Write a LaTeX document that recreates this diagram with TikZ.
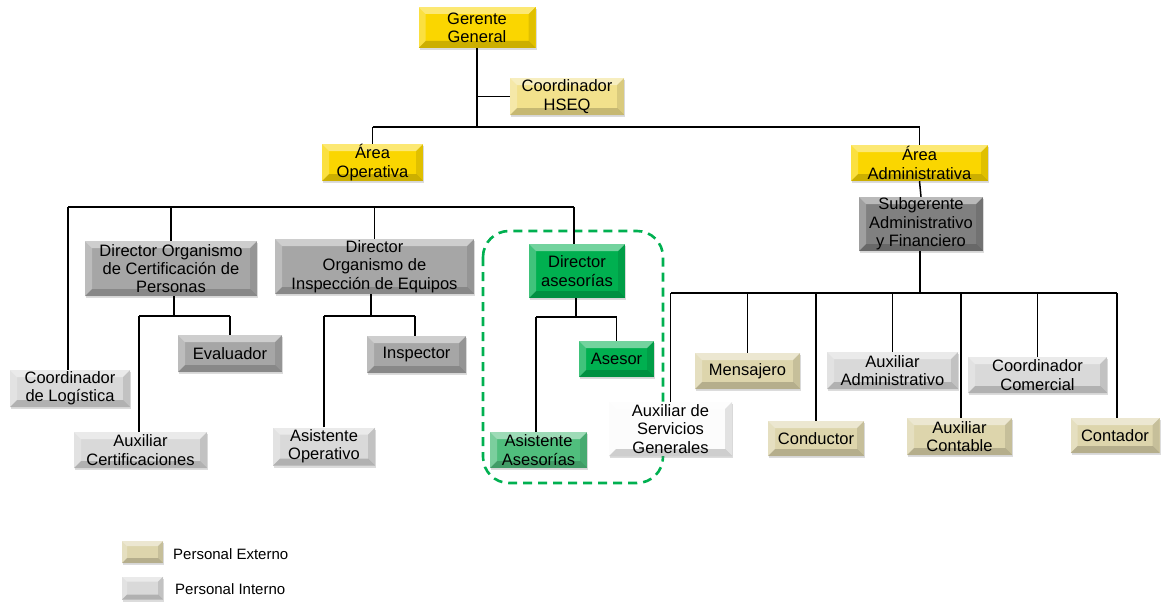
\documentclass[tikz,border=0pt]{standalone}
\usepackage{fontspec}
\setmainfont{Liberation Sans}
\usetikzlibrary{shadows}

% box fills
\definecolor{cYellow}{RGB}{250,214,0}
\definecolor{cYellowLt}{RGB}{242,225,140}
\definecolor{cGrayDir}{RGB}{166,166,166}
\definecolor{cGrayDk}{RGB}{128,128,128}
\definecolor{cGrayLt}{RGB}{217,217,217}
\definecolor{cKhaki}{RGB}{221,213,172}
\definecolor{cGreen}{RGB}{0,176,80}
\definecolor{cGreenLt}{RGB}{80,190,125}
\definecolor{cWhiteBox}{RGB}{252,252,252}

\tikzset{
  bevel/.style={path picture={
    \path (path picture bounding box.north west) coordinate (bnw)
          (path picture bounding box.north east) coordinate (bne)
          (path picture bounding box.south west) coordinate (bsw)
          (path picture bounding box.south east) coordinate (bse);
    \fill[white,opacity=.45] (bnw) -- (bne) -- ([shift={(-#1,-#1)}]bne) -- ([shift={(#1,-#1)}]bnw) -- cycle;
    \fill[white,opacity=.25] (bnw) -- ([shift={(#1,-#1)}]bnw) -- ([shift={(#1,#1)}]bsw) -- (bsw) -- cycle;
    \fill[black,opacity=.10] (bne) -- (bse) -- ([shift={(-#1,#1)}]bse) -- ([shift={(-#1,-#1)}]bne) -- cycle;
    \fill[black,opacity=.18] (bsw) -- (bse) -- ([shift={(-#1,#1)}]bse) -- ([shift={(#1,#1)}]bsw) -- cycle;
  }},
  orgbox/.style={draw=none, fill=#1, inner sep=0pt, align=center,
    font=\fontsize{16.5}{18.3}\selectfont, bevel=7pt,
    drop shadow={opacity=.28, shadow xshift=1.2pt, shadow yshift=-2.2pt}},
  sz/.style 2 args={minimum width=#1pt, minimum height=#2pt},
  link/.style={draw=black, line width=1.5pt},
  groupframe/.style={draw=cGreen, line width=2.6pt, dash pattern=on 9pt off 6pt, rounded corners=26pt},
  legendtext/.style={anchor=west, inner sep=0pt, font=\fontsize{15}{17}\selectfont}
}

\begin{document}
\begin{tikzpicture}[x=1pt,y=-1pt]
\useasboundingbox (0,0) rectangle (1166,602);

% advisory group frame, behind the boxes
\draw[groupframe] (483,231) rectangle (663,483);

% management
\node[orgbox=cYellow, sz={117}{41}] (gg) at (477,27.5) {Gerente\\General};
\node[orgbox=cYellowLt, sz={114}{37}] (hseq) at (567,96.5) {Coordinador\\HSEQ};
\node[orgbox=cYellow, sz={101}{37}] (aop) at (372.5,162.5) {Área\\Operativa};
\node[orgbox=cYellow, sz={137}{36}] (aad) at (919.5,163) {Área\\Administrativa};
\node[orgbox=cGrayDk, sz={124}{54}] (sub) at (921,224) {Subgerente\\Administrativo\\y Financiero};

% operational area
\node[orgbox=cGrayDir, sz={172}{55}] (dcp) at (171,268.5) {Director Organismo\\de Certificación de\\Personas};
\node[orgbox=cGrayDir, sz={199}{55}] (die) at (374.5,266.5) {Director\\Organismo de\\Inspección de Equipos};
\node[orgbox=cGreen, sz={96}{54}] (das) at (577,271) {Director\\asesorías};
\node[orgbox=cGrayDir, sz={104}{37}] (eval) at (230,353.5) {Evaluador};
\node[orgbox=cGrayDir, sz={99}{37}] (insp) at (416.5,354.5) {Inspector};
\node[orgbox=cGrayLt, sz={120}{37}] (clog) at (70,388.5) {Coordinador\\de Logística};
\node[orgbox=cGrayLt, sz={133}{36}] (auxc) at (140.5,450) {Auxiliar\\Certificaciones};
\node[orgbox=cGrayLt, sz={102}{38}] (asop) at (324,446.5) {Asistente\\Operativo};
\node[orgbox=cGreen, sz={75}{36}] (ases) at (616.5,359) {Asesor};
\node[orgbox=cGreenLt, sz={97}{36}] (asas) at (538.5,450) {Asistente\\Asesorías};

% administrative area
\node[orgbox=cWhiteBox, sz={123}{54}] (asg) at (670.5,429) {Auxiliar de\\Servicios\\Generales};
\node[orgbox=cKhaki, sz={105}{36}] (mens) at (747.5,371) {Mensajero};
\node[orgbox=cKhaki, sz={96}{35}] (cond) at (816,438.5) {Conductor};
\node[orgbox=cGrayLt, sz={131}{37}] (auxa) at (892.5,370.5) {Auxiliar\\Administrativo};
\node[orgbox=cKhaki, sz={105}{37}] (auxco) at (959.5,436.5) {Auxiliar\\Contable};
\node[orgbox=cGrayLt, sz={139}{36}] (cc) at (1037.5,375) {Coordinador\\Comercial};
\node[orgbox=cKhaki, sz={89}{35}] (cont) at (1115,435.5) {Contador};

% bus levels
\coordinate (b0) at (0,127);
\coordinate (b1) at (0,207);
\coordinate (b2) at (0,316);
\coordinate (b3) at (0,316);
\coordinate (b4) at (0,317);
\coordinate (b5) at (0,293);

% top level
\draw[link] (gg.south) -- (gg.south |- b0);
\draw[link] (hseq.west) -- (hseq.west -| gg.south);
\draw[link] (aop.north |- b0) -- (aad.north |- b0);
\draw[link] (aop.north) -- (aop.north |- b0);
\draw[link] (aad.north) -- (aad.north |- b0);
\draw[link] (aad.south) -- (sub.north);

% operational bus
\draw[link] ([xshift=-2pt]clog.north |- b1) -- ([xshift=-3pt]das.north |- b1);
\draw[link] ([xshift=-2pt]clog.north) -- ([xshift=-2pt]clog.north |- b1);
\draw[link] (dcp.north) -- (dcp.north |- b1);
\draw[link] (die.north) -- (die.north |- b1);
\draw[link] ([xshift=-3pt]das.north) -- ([xshift=-3pt]das.north |- b1);

% certification
\draw[link] ([xshift=3pt]dcp.south) -- ([xshift=3pt]dcp.south |- b2);
\draw[link] ([xshift=-1.5pt]auxc.north |- b2) -- (eval.north |- b2);
\draw[link] ([xshift=-1.5pt]auxc.north) -- ([xshift=-1.5pt]auxc.north |- b2);
\draw[link] (eval.north) -- (eval.north |- b2);

% inspection
\draw[link] ([xshift=-3.5pt]die.south) -- ([xshift=-3.5pt]die.south |- b3);
\draw[link] (asop.north |- b3) -- ([xshift=-1.5pt]insp.north |- b3);
\draw[link] (asop.north) -- (asop.north |- b3);
\draw[link] ([xshift=-1.5pt]insp.north) -- ([xshift=-1.5pt]insp.north |- b3);

% advisory
\draw[link] ([xshift=-1pt]das.south) -- ([xshift=-1pt]das.south |- b4);
\draw[link] ([xshift=-2.5pt]asas.north |- b4) -- (ases.north |- b4);
\draw[link] ([xshift=-2.5pt]asas.north) -- ([xshift=-2.5pt]asas.north |- b4);
\draw[link] (ases.north) -- (ases.north |- b4);

% administrative bus
\draw[link] ([xshift=-1pt]sub.south) -- ([xshift=-1pt]sub.south |- b5);
\draw[link] (asg.north |- b5) -- ([xshift=2pt]cont.north |- b5);
\draw[link] (asg.north) -- (asg.north |- b5);
\draw[link] (mens.north) -- (mens.north |- b5);
\draw[link] (cond.north) -- (cond.north |- b5);
\draw[link] (auxa.north) -- (auxa.north |- b5);
\draw[link] ([xshift=1.5pt]auxco.north) -- ([xshift=1.5pt]auxco.north |- b5);
\draw[link] (cc.north) -- (cc.north |- b5);
\draw[link] ([xshift=2pt]cont.north) -- ([xshift=2pt]cont.north |- b5);

% legend
\node[orgbox=cKhaki, sz={41}{22}, bevel=5pt] (lgE) at (142.5,552) {};
\node[orgbox=cGrayLt, sz={41}{23}, bevel=5pt] (lgI) at (142.5,588) {};
\node[legendtext] (lgEt) at (173,554) {Personal Externo};
\node[legendtext] (lgIt) at (175,589) {Personal Interno};
\end{tikzpicture}
\end{document}
